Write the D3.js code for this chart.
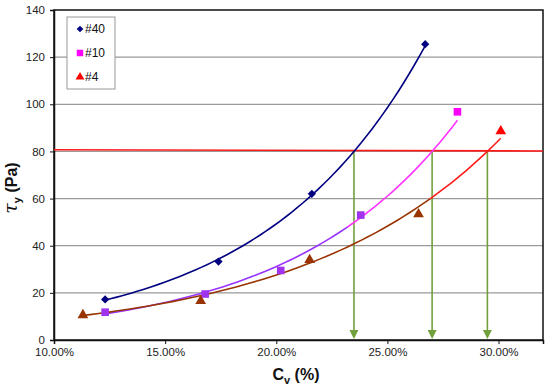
<!DOCTYPE html>
<html>
<head>
<meta charset="utf-8">
<script src="https://cdn.jsdelivr.net/npm/d3@7"></script>
<style>
  body { margin: 0; background: #fff; }
  svg { font-family: "Liberation Sans", Arial, sans-serif; }
</style>
</head>
<body>
<div id="chart"></div>
<script>
// Cv (%) and yield stress (Pa)
const cv40 = [12.3, 17.4, 21.6, 26.7];
const tau40 = [17.2, 33.3, 62.0, 125.5];
const cv10 = [12.3, 16.8, 20.2, 23.8, 28.15];
const tau10 = [11.8, 19.5, 29.5, 53.0, 96.8];
const cv4 = [11.3, 16.6, 21.5, 26.4, 30.1];
const tau4 = [11.0, 17.0, 34.4, 53.8, 89.0];

const yTicks = [0, 20, 40, 60, 80, 100, 120, 140];
const xTicks = [10, 15, 20, 25, 30];
const limitLine = [[10, 80.7], [32, 80.2]];
const limitTau = 80;

function drawChart() {
    const width = 550, height = 387;
    const svg = d3.select('#chart').append('svg')
        .attr('width', width)
        .attr('height', height);

    const x = d3.scaleLinear().domain([10, 32]).range([54, 543]);
    const y = d3.scaleLinear().domain([0, 140]).range([340, 10]);

    const defs = svg.append('defs');
    // trendline colour changes partway up, as in the original
    function vGrad(id, lowCol, highCol, split) {
        const g = defs.append('linearGradient')
            .attr('id', id)
            .attr('gradientUnits', 'userSpaceOnUse')
            .attr('x1', 0).attr('x2', 0)
            .attr('y1', y(0)).attr('y2', y(140));
        const t = split / 140;
        g.append('stop').attr('offset', 0).attr('stop-color', lowCol);
        g.append('stop').attr('offset', t).attr('stop-color', lowCol);
        g.append('stop').attr('offset', t).attr('stop-color', highCol);
        g.append('stop').attr('offset', 1).attr('stop-color', highCol);
    }
    vGrad('g10', '#9933ff', '#ff33ff', 48);
    vGrad('g4', '#993300', '#ff1a1a', 60);

    // gridlines
    svg.append('g')
        .selectAll('line')
        .data(yTicks.filter(d => d > 0 && d < 140))
        .enter().append('line')
        .attr('x1', x(10)).attr('x2', x(32))
        .attr('y1', d => y(d)).attr('y2', d => y(d))
        .attr('stroke', '#9a9a9a')
        .attr('stroke-width', 1.2);

    // frame
    svg.append('rect')
        .attr('x', x(10)).attr('y', y(140))
        .attr('width', x(32) - x(10)).attr('height', y(0) - y(140))
        .attr('fill', 'none')
        .attr('stroke', '#111')
        .attr('stroke-width', 1.5);

    // axes
    const yAxis = svg.append('g')
        .attr('transform', `translate(${x(10)},0)`)
        .call(d3.axisLeft(y).tickValues(yTicks).tickSize(4).tickPadding(5));
    const xAxis = svg.append('g')
        .attr('transform', `translate(0,${y(0)})`)
        .call(d3.axisBottom(x).tickValues(xTicks).tickSize(4).tickPadding(4)
            .tickFormat(d => d.toFixed(2) + '%'));
    [xAxis, yAxis].forEach(a => {
        a.select('.domain').attr('stroke', '#111').attr('stroke-width', 1.5);
        a.selectAll('.tick line').attr('stroke', '#111');
        a.selectAll('.tick text')
            .attr('fill', '#222')
            .style('font-size', '11.5px')
            .style('font-family', '"Liberation Sans", Arial, sans-serif');
    });

    // exponential trendline (least squares on ln y), like Excel
    function expFit(xs, ys) {
        const ly = ys.map(Math.log);
        const mx = d3.mean(xs), my = d3.mean(ly);
        const b = d3.sum(xs, (v, i) => (v - mx) * (ly[i] - my)) / d3.sum(xs, v => (v - mx) * (v - mx));
        const a = my - b * mx;
        return { f: v => Math.exp(a + b * v), inv: t => (Math.log(t) - a) / b };
    }

    const series = [
        { xs: cv40, ys: tau40, curve: '#000080' },
        { xs: cv10, ys: tau10, curve: 'url(#g10)' },
        { xs: cv4, ys: tau4, curve: 'url(#g4)' }
    ];
    series.forEach(s => { s.fit = expFit(s.xs, s.ys); });

    const line = d3.line().x(d => x(d[0])).y(d => y(d[1]));

    // horizontal limit line at ~80 Pa
    svg.append('path')
        .attr('d', line(limitLine))
        .attr('fill', 'none')
        .attr('stroke', '#ff1a1a')
        .attr('stroke-width', 1.6);

    // drop arrows from the crossing points
    const arrowCol = '#72a03c';
    series.forEach(s => {
        const xc = s.fit.inv(limitTau);
        svg.append('line')
            .attr('x1', x(xc)).attr('x2', x(xc))
            .attr('y1', y(limitTau)).attr('y2', y(0) - 6)
            .attr('stroke', arrowCol)
            .attr('stroke-width', 1.6);
        svg.append('path')
            .attr('d', `M${x(xc) - 4.5},${y(0) - 10}L${x(xc) + 4.5},${y(0) - 10}L${x(xc)},${y(0) - 1}Z`)
            .attr('fill', arrowCol);
    });

    // fitted curves
    series.forEach(s => {
        const lo = d3.min(s.xs), hi = d3.max(s.xs);
        const pts = d3.range(0, 61).map(i => {
            const v = lo + (hi - lo) * i / 60;
            return [v, s.fit.f(v)];
        });
        svg.append('path')
            .attr('d', line(pts))
            .attr('fill', 'none')
            .attr('stroke', s.curve)
            .attr('stroke-width', 1.6);
    });

    // diamond = square turned 45 degrees
    const diamond = d3.symbol().type(d3.symbolSquare).size(34);
    const square = d3.symbol().type(d3.symbolSquare).size(58);
    const triangle = d3.symbol().type(d3.symbolTriangle).size(50);

    // #40 markers
    svg.append('g').selectAll('path')
        .data(cv40.map((v, i) => [v, tau40[i]]))
        .enter().append('path')
        .attr('d', diamond)
        .attr('transform', d => `translate(${x(d[0])},${y(d[1])}) rotate(45)`)
        .attr('fill', '#000080');

    // #10 markers
    svg.append('g').selectAll('path')
        .data(cv10.map((v, i) => [v, tau10[i]]))
        .enter().append('path')
        .attr('d', square)
        .attr('transform', d => `translate(${x(d[0])},${y(d[1])})`)
        .attr('fill', (d, i) => i === cv10.length - 1 ? '#ff00ff' : '#a033ee');

    // #4 markers
    svg.append('g').selectAll('path')
        .data(cv4.map((v, i) => [v, tau4[i]]))
        .enter().append('path')
        .attr('d', triangle)
        .attr('transform', d => `translate(${x(d[0])},${y(d[1]) + 1})`)
        .attr('fill', (d, i) => i === cv4.length - 1 ? '#ff0000' : '#993300');

    // legend
    const legend = svg.append('g').attr('transform', 'translate(67,17)');
    legend.append('rect')
        .attr('width', 48).attr('height', 72)
        .attr('fill', '#fff')
        .attr('stroke', '#999');
    const items = [
        { label: '#40', sym: d3.symbol().type(d3.symbolSquare).size(22), rot: 45, col: '#000080' },
        { label: '#10', sym: d3.symbol().type(d3.symbolSquare).size(42), rot: 0, col: '#ff00ff' },
        { label: '#4', sym: d3.symbol().type(d3.symbolTriangle).size(34), rot: 0, col: '#ff0000' }
    ];
    items.forEach((it, i) => {
        const gy = 12 + i * 24;
        legend.append('path')
            .attr('d', it.sym)
            .attr('transform', `translate(13,${gy}) rotate(${it.rot})`)
            .attr('fill', it.col);
        legend.append('text')
            .attr('x', 18).attr('y', gy + 4)
            .style('font-size', '12px')
            .attr('fill', '#111')
            .text(it.label);
    });

    // axis titles
    const xt = svg.append('text')
        .attr('x', 296).attr('y', 380)
        .attr('text-anchor', 'middle')
        .style('font-size', '16px')
        .style('font-weight', 'bold')
        .attr('fill', '#111');
    xt.append('tspan').text('C');
    xt.append('tspan').attr('dy', 4).style('font-size', '11px').text('v');
    xt.append('tspan').attr('dy', -4).text(' (%)');

    const yt = svg.append('text')
        .attr('transform', 'translate(17,188) rotate(-90)')
        .attr('text-anchor', 'middle')
        .style('font-size', '16px')
        .style('font-weight', 'bold')
        .attr('fill', '#111');
    yt.append('tspan')
        .style('font-family', '"DejaVu Serif", serif')
        .style('font-style', 'italic')
        .style('font-weight', 'normal')
        .style('font-size', '19px')
        .text('τ');
    yt.append('tspan').attr('dy', 4).style('font-size', '11px').text('y');
    yt.append('tspan').attr('dy', -4).text(' (Pa)');
}

document.addEventListener('DOMContentLoaded', drawChart);
</script>
</body>
</html>
